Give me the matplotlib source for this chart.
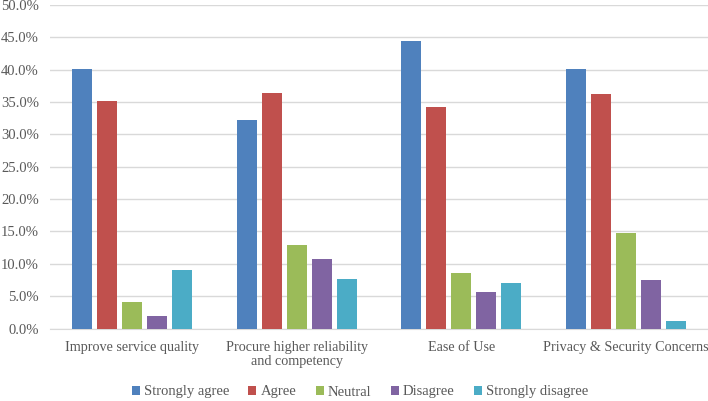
import numpy as np
import matplotlib
matplotlib.use("Agg")
import matplotlib.pyplot as plt
from matplotlib.ticker import FuncFormatter

# values (percent)
categories = ["Improve service quality",
              "Procure higher reliability\nand competency",
              "Ease of Use",
              "Privacy & Security Concerns"]
series_names = ["Strongly agree", "Agree", "Neutral", "Disagree", "Strongly disagree"]
strongly_agree = [40.1, 32.2, 44.4, 40.1]
agree = [35.2, 36.4, 34.3, 36.3]
neutral = [4.1, 12.9, 8.6, 14.8]
disagree = [2.0, 10.8, 5.7, 7.5]
strongly_disagree = [9.0, 7.7, 7.1, 1.1]
yticks = np.arange(0, 50.1, 5)

colors = ["#4F81BD", "#C0504D", "#9BBB59", "#8064A2", "#4BACC6"]
text_col = "#595959"
plt.rcParams["font.family"] = ["Liberation Serif", "DejaVu Serif"]

fig = plt.figure(figsize=(7.08, 4.01), dpi=100)
ax = fig.add_axes([50 / 708, 1 - 328.5 / 401, 658 / 708, 323.5 / 401])

x = np.arange(len(categories))
step, width = 0.152, 0.122
all_series = [strongly_agree, agree, neutral, disagree, strongly_disagree]
for i, (vals, name, c) in enumerate(zip(all_series, series_names, colors)):
    ax.bar(x + (i - 2) * step, vals, width, color=c, label=name, zorder=3)

ax.set_xlim(-0.5, len(categories) - 0.5)
ax.set_ylim(0, 50)
ax.set_yticks(yticks)
ax.yaxis.set_major_formatter(FuncFormatter(lambda v, p: "{:.1f}%".format(v)))
ax.set_xticks(x)
ax.set_xticklabels(categories, fontsize=10.2, linespacing=1.1)
ax.grid(axis="y", color="#D9D9D9", linewidth=1, zorder=0)
for s in ["top", "right", "left"]:
    ax.spines[s].set_visible(False)
ax.spines["bottom"].set_color("#D9D9D9")
ax.tick_params(axis="y", length=0, labelsize=10.5, labelcolor=text_col, pad=8)
ax.tick_params(axis="x", length=0, labelcolor=text_col, pad=9)

leg = fig.legend(loc="center", bbox_to_anchor=(360 / 708, 1 - 392 / 401), ncol=5,
                 frameon=False, fontsize=10.5, handlelength=0.55, handleheight=0.55,
                 handletextpad=0.3, columnspacing=1.3)
for t in leg.get_texts():
    t.set_color(text_col)

fig.savefig("out.png", dpi=100)
